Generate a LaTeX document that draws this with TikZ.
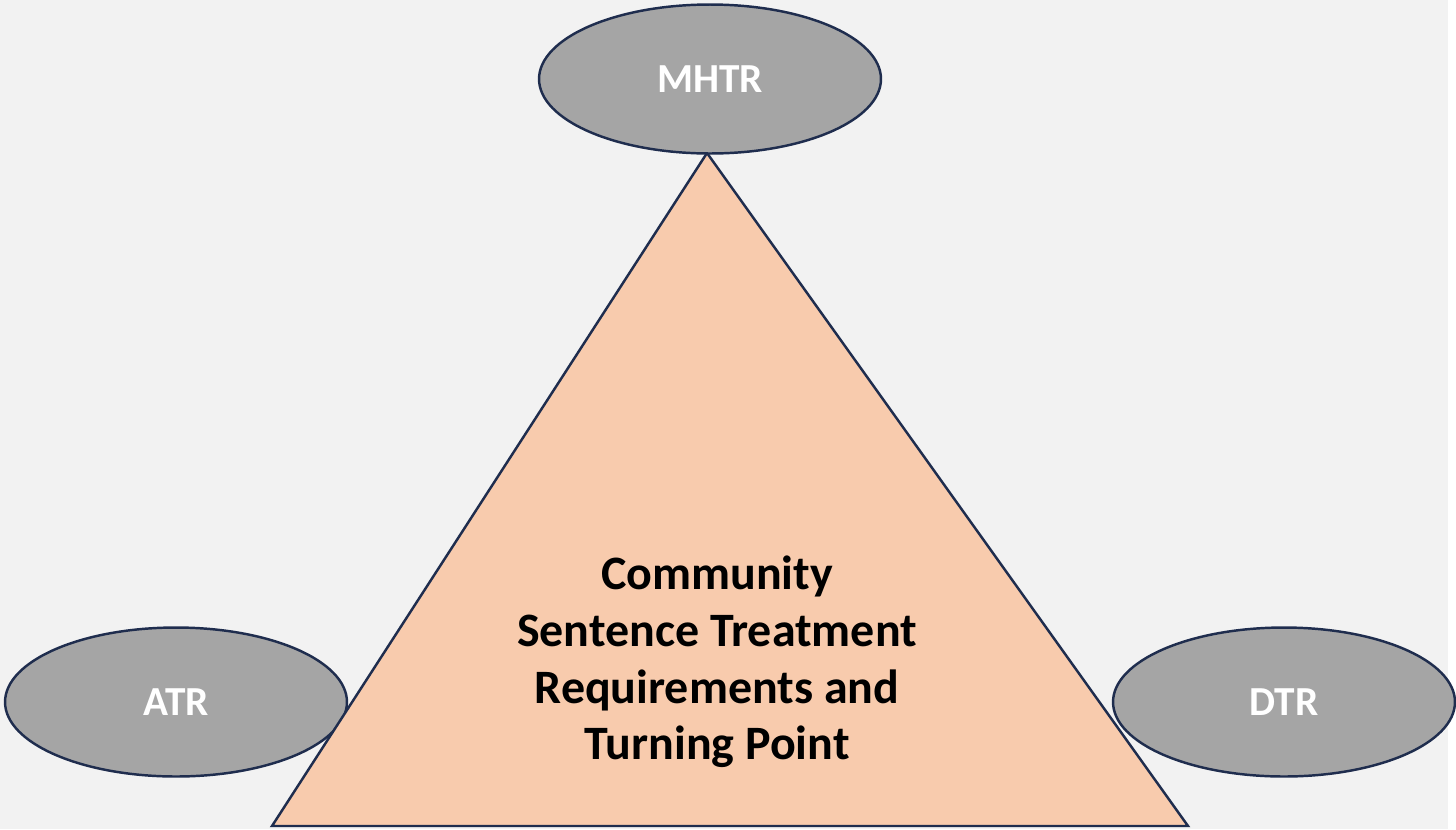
\documentclass[tikz,border=0pt]{standalone}
\usepackage{fontspec}
\setmainfont{Carlito}
\usetikzlibrary{shapes.geometric}

\definecolor{slidebg}{HTML}{F2F2F2}
\definecolor{peach}{HTML}{F8CBAD}
\definecolor{ovalgrey}{HTML}{A5A5A5}
\definecolor{navyline}{HTML}{1F2D4E}

\begin{document}
\begin{tikzpicture}[
    x=0.02cm, y=-0.02cm,
    every node/.style={align=center, font=\bfseries},
    req/.style={ellipse, draw=navyline, line width=1.4pt, fill=ovalgrey, text=white,
        minimum width=6.84cm, minimum height=2.98cm, inner sep=0pt,
        font=\fontsize{23.5}{28}\selectfont\bfseries},
    cstr/.style={draw=navyline, line width=1.4pt, fill=peach, line join=miter}
]

    % Background
    \fill[white] (0,0) rectangle (1456,829);
    \fill[slidebg] (0,0) rectangle (1448,829);
    \useasboundingbox (0,0) rectangle (1456,829);

    % Left requirement
    \node[req] (atr) at (176,702) {ATR};

    % Triangle
    \coordinate (apex) at (707,153);
    \coordinate (baseleft) at (272,826);
    \coordinate (baseright) at (1188,826);
    \draw[cstr] (apex) -- (baseright) -- (baseleft) -- cycle;
    \node[font=\fontsize{27.3}{32.3}\selectfont\bfseries] (cstext) at (717,662)
        {Community\\Sentence Treatment\\Requirements and\\Turning Point};

    % Other requirements
    \node[req] (dtr) at (1284,702) {DTR};
    \node[req] (mhtr) at (710,79) {MHTR};

\end{tikzpicture}
\end{document}
